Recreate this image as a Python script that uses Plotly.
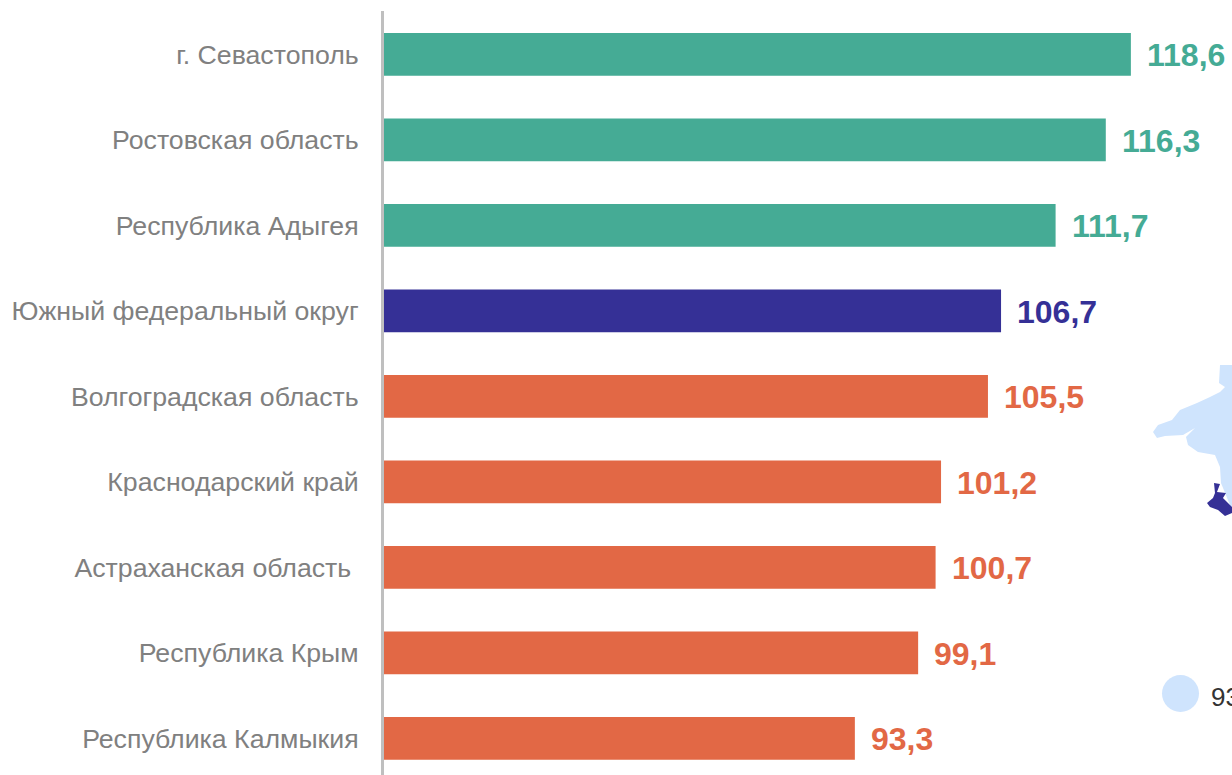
import plotly.graph_objects as go

regions = ["г. Севастополь", "Ростовская область", "Республика Адыгея",
           "Южный федеральный округ", "Волгоградская область", "Краснодарский край",
           "Астраханская область\u00a0", "Республика Крым", "Республика Калмыкия"]
values = [118.6, 116.3, 111.7, 106.7, 105.5, 101.2, 100.7, 99.1, 93.3]
colors = ["#45AB95", "#45AB95", "#45AB95", "#353096", "#E26845", "#E26845", "#E26845", "#E26845", "#E26845"]
labels = [f"{v:.1f}".replace(".", ",") for v in values]
legend_text = "93"

MAP_LIGHT = "#CFE4FD"
MAP_DARK = "#353096"

W, H = 1232, 775
fig = go.Figure(go.Bar(
    x=values, y=regions, orientation="h",
    marker=dict(color=colors, line_width=0),
    width=0.5, hoverinfo="skip",
))

def px_path(points):
    return "M " + " L ".join(f"{x/W:.5f},{1-y/H:.5f}" for x, y in points) + " Z"

crimea = [(1220, 365), (1232, 365), (1232, 510), (1221, 483), (1220, 467), (1215, 455), (1198, 452),
          (1188, 445), (1186, 437), (1195, 428), (1183, 435), (1165, 436), (1157, 438), (1153, 432),
          (1158, 425), (1172, 420), (1180, 410), (1197, 403), (1210, 397), (1220, 392), (1225, 387),
          (1219, 383)]
sevastopol = [(1214, 483), (1220, 484), (1217, 492), (1226, 493), (1223, 498), (1232, 507), (1232, 513),
              (1225, 516), (1218, 510), (1210, 507), (1207, 503), (1213, 498), (1215, 493)]

shapes = [
    dict(type="path", xref="paper", yref="paper", path=px_path(crimea), fillcolor=MAP_LIGHT, line_width=0, layer="below"),
    dict(type="path", xref="paper", yref="paper", path=px_path(sevastopol), fillcolor=MAP_DARK, line_width=0, layer="above"),
    dict(type="circle", xref="paper", yref="paper", x0=1162/W, x1=1199/W, y0=1-712/H, y1=1-675/H,
         fillcolor=MAP_LIGHT, line_width=0),
]

annotations = [dict(xref="x", yref="y", x=v, y=r, xanchor="left", yanchor="middle", xshift=15, yshift=-1,
                    text=f"<b>{t}</b>", showarrow=False, borderpad=0,
                    font=dict(family="Liberation Sans", size=32, color=c))
               for v, r, t, c in zip(values, regions, labels, colors)]
annotations.append(dict(xref="paper", yref="paper", x=1210/W, y=1-697/H, xanchor="left", yanchor="middle",
                        text=legend_text, showarrow=False, borderpad=0,
                        font=dict(family="Liberation Sans", size=26, color="#333333")))

fig.update_layout(
    width=W, height=H, margin=dict(l=0, r=0, t=0, b=0, pad=0),
    paper_bgcolor="white", plot_bgcolor="white", showlegend=False,
    bargap=0.5, shapes=shapes, annotations=annotations,
    font=dict(family="Liberation Sans"),
    xaxis=dict(domain=[383/W, 1], range=[50.05, 50.05 + 849/10.91], visible=False, fixedrange=True),
    yaxis=dict(domain=[0, 1 - 11/H], range=[8.427, -0.5082], showline=True, linecolor="#BFBFBF", linewidth=3,
               ticks="", ticklabelstandoff=17, showgrid=False, zeroline=False,
               tickfont=dict(family="Liberation Sans", size=26.7, color="#808080"), anchor="free", position=382/W,
               automargin=False, fixedrange=True),
)
fig.write_html("out.html", config=dict(displayModeBar=False),
               post_script="document.body.style.margin='0';document.documentElement.style.overflow='hidden';")
